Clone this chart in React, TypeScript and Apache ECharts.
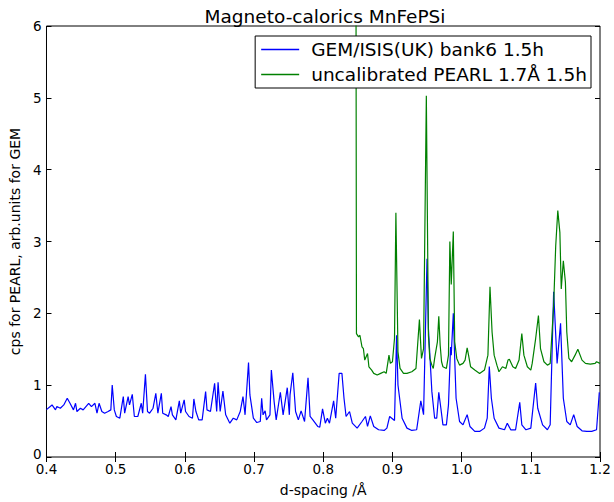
import React, { useEffect, useRef } from "react";
import * as echarts from "echarts";

const gemD = [
  0.400, 0.408, 0.413, 0.415, 0.420, 0.425, 0.430, 0.434, 0.439, 0.442, 0.444, 0.449, 0.453, 0.461, 0.465, 0.470,
  0.473, 0.476, 0.480, 0.484, 0.489, 0.493, 0.495, 0.498, 0.501, 0.506, 0.511, 0.513, 0.518, 0.520, 0.524, 0.527,
  0.532, 0.537, 0.539, 0.543, 0.546, 0.549, 0.554, 0.558, 0.561, 0.566, 0.568, 0.573, 0.576, 0.580, 0.582, 0.587,
  0.592, 0.594, 0.599, 0.601, 0.606, 0.611, 0.613, 0.616, 0.620, 0.625, 0.630, 0.632, 0.637, 0.643, 0.646, 0.648,
  0.651, 0.655, 0.659, 0.665, 0.670, 0.675, 0.680, 0.684, 0.687, 0.692, 0.694, 0.699, 0.704, 0.709, 0.711, 0.713,
  0.716, 0.718, 0.723, 0.725, 0.729, 0.732, 0.738, 0.742, 0.748, 0.751, 0.752, 0.756, 0.760, 0.764, 0.768, 0.773,
  0.778, 0.781, 0.785, 0.792, 0.795, 0.799, 0.803, 0.806, 0.809, 0.815, 0.818, 0.823, 0.827, 0.830, 0.833, 0.838,
  0.842, 0.849, 0.856, 0.861, 0.864, 0.868, 0.873, 0.880, 0.888, 0.892, 0.896, 0.899, 0.903, 0.906, 0.908, 0.914,
  0.921, 0.928, 0.935, 0.941, 0.945, 0.950, 0.952, 0.957, 0.961, 0.964, 0.967, 0.970, 0.973, 0.978, 0.981, 0.984,
  0.985, 0.988, 0.990, 0.992, 0.997, 1.002, 1.008, 1.012, 1.019, 1.026, 1.033, 1.037, 1.040, 1.043, 1.047, 1.054,
  1.062, 1.066, 1.071, 1.078, 1.084, 1.087, 1.093, 1.100, 1.107, 1.110, 1.117, 1.124, 1.128, 1.133, 1.138, 1.143,
  1.147, 1.152, 1.157, 1.162, 1.167, 1.174, 1.181, 1.188, 1.195, 1.199,
];
const gemCps = [
  0.66, 0.725, 0.656, 0.702, 0.679, 0.725, 0.818, 0.748, 0.656, 0.748, 0.633, 0.679, 0.656, 0.748, 0.702, 0.748,
  0.61, 0.748, 0.633, 0.61, 0.633, 0.656, 1.002, 0.656, 0.564, 0.54, 0.841, 0.61, 0.841, 0.725, 0.873, 0.564,
  0.564, 0.748, 0.61, 1.15, 0.633, 0.61, 0.679, 0.887, 0.61, 0.887, 0.61, 0.587, 0.564, 0.702, 0.587, 0.517,
  0.781, 0.61, 0.795, 0.633, 0.564, 0.54, 0.808, 0.633, 0.517, 0.517, 0.91, 0.656, 0.633, 1.025, 0.633, 1.039,
  0.633, 0.919, 0.587, 0.471, 0.54, 0.517, 0.633, 0.841, 0.587, 1.316, 0.864, 0.54, 0.48, 0.494, 0.818, 0.587,
  0.642, 0.517, 0.587, 1.21, 0.771, 0.517, 0.901, 0.587, 0.965, 0.587, 0.864, 1.173, 0.633, 0.517, 0.642, 0.494,
  1.104, 0.564, 0.517, 0.425, 0.416, 0.67, 0.471, 0.54, 0.471, 0.781, 0.54, 1.164, 1.164, 0.818, 0.564, 0.633,
  0.471, 0.402, 0.494, 0.564, 0.425, 0.573, 0.425, 0.379, 0.37, 0.402, 0.564, 0.54, 0.508, 1.695, 1.002, 0.54,
  0.402, 0.37, 0.379, 0.781, 0.59, 2.76, 1.787, 0.91, 0.54, 0.54, 0.9, 0.679, 0.448, 0.448, 0.725, 1.53,
  1.418, 2.0, 1.372, 0.818, 0.494, 0.448, 0.59, 0.425, 0.356, 0.356, 0.402, 0.54, 1.26, 0.818, 0.54, 0.402,
  0.379, 0.47, 0.379, 0.379, 0.76, 0.448, 0.379, 0.402, 1.03, 0.679, 0.448, 0.379, 0.448, 2.3, 1.303, 1.86,
  0.818, 0.494, 0.448, 0.59, 0.425, 0.365, 0.356, 0.356, 0.379, 0.9,
];

const pearlD = [
  0.847, 0.848, 0.851, 0.853, 0.856, 0.858, 0.860, 0.864, 0.866, 0.870, 0.873, 0.878, 0.883, 0.888, 0.891, 0.895,
  0.897, 0.900, 0.903, 0.905, 0.908, 0.911, 0.916, 0.921, 0.928, 0.934, 0.939, 0.942, 0.945, 0.949, 0.952, 0.954,
  0.957, 0.959, 0.961, 0.965, 0.967, 0.969, 0.971, 0.973, 0.978, 0.981, 0.983, 0.985, 0.988, 0.990, 0.993, 0.997,
  1.002, 1.005, 1.008, 1.010, 1.013, 1.019, 1.026, 1.033, 1.038, 1.041, 1.044, 1.047, 1.051, 1.054, 1.059, 1.064,
  1.067, 1.069, 1.074, 1.078, 1.083, 1.087, 1.090, 1.095, 1.100, 1.102, 1.107, 1.111, 1.114, 1.119, 1.124, 1.128,
  1.133, 1.136, 1.139, 1.142, 1.144, 1.147, 1.150, 1.152, 1.155, 1.159, 1.164, 1.168, 1.174, 1.179, 1.186, 1.193,
  1.195, 1.200,
];
const pearlCps = [
  9.0, 1.718, 1.672, 1.695, 1.533, 1.51, 1.349, 1.441, 1.256, 1.21, 1.164, 1.141, 1.164, 1.187, 1.164, 1.418,
  1.303, 1.326, 1.649, 3.4, 1.464, 1.233, 1.164, 1.164, 1.187, 1.233, 1.912, 1.372, 1.51, 5.03, 1.695, 1.372,
  1.279, 1.233, 1.372, 1.603, 1.96, 1.556, 1.326, 1.256, 1.233, 1.418, 3.0, 2.4, 3.14, 1.603, 1.372, 1.279,
  1.303, 1.349, 1.52, 1.418, 1.256, 1.21, 1.164, 1.21, 1.418, 2.37, 1.741, 1.418, 1.279, 1.187, 1.256, 1.233,
  1.35, 1.36, 1.256, 1.233, 1.349, 1.72, 1.418, 1.256, 1.21, 1.303, 1.649, 1.97, 1.51, 1.326, 1.279, 1.303,
  2.11, 2.942, 3.43, 3.127, 2.34, 2.73, 2.434, 1.741, 1.372, 1.326, 1.418, 1.5, 1.349, 1.303, 1.293, 1.303,
  1.326, 1.303,
];

const TITLE = "Magneto-calorics MnFePSi";
const GEM_NAME = "GEM/ISIS(UK) bank6 1.5h";
const PEARL_NAME = "uncalibrated PEARL 1.7Å 1.5h";
const X_NAME = "d-spacing /Å";
const Y_NAME = "cps for PEARL, arb.units for GEM";

const FONT = "DejaVu Sans";

export default function App() {
  const ref = useRef<HTMLDivElement>(null);
  useEffect(() => {
    const chart = echarts.init(ref.current!, null, { renderer: "svg" });
    const tick = { show: true, inside: true, length: 5, lineStyle: { color: "#000", width: 1 } };
    chart.setOption({
      animation: false,
      backgroundColor: "#fff",
      title: {
        text: TITLE,
        left: 320,
        top: 2,
        textAlign: "center",
        textStyle: { fontFamily: FONT, fontSize: 18.5, fontWeight: "normal", color: "#000" },
      },
      grid: {
        left: 41,
        right: 14,
        top: 26,
        bottom: 43,
        show: true,
        borderColor: "#000",
        borderWidth: 1,
        backgroundColor: "transparent",
      },
      legend: {
        orient: "vertical",
        right: 23,
        top: 36,
        backgroundColor: "#fff",
        borderColor: "#000",
        borderWidth: 1,
        borderRadius: 0,
        padding: [4, 4, 4, 6],
        itemGap: 6,
        itemWidth: 38,
        itemHeight: 1.5,
        icon: "rect",
        textStyle: { fontFamily: FONT, fontSize: 18.5, color: "#000", padding: [0, 0, 0, 7] },
        data: [GEM_NAME, PEARL_NAME],
      },
      xAxis: [
        {
          type: "value",
          min: 0.4,
          max: 1.2,
          interval: 0.1,
          position: "bottom",
          axisLine: { show: false },
          axisTick: tick,
          splitLine: { show: false },
          axisLabel: {
            color: "#000",
            fontFamily: FONT,
            fontSize: 13.5,
            lineHeight: 12,
            margin: 6,
            showMinLabel: true,
            showMaxLabel: true,
            formatter: (v: number) => v.toFixed(1),
          },
          name: X_NAME,
          nameLocation: "middle",
          nameGap: 26,
          nameTextStyle: { color: "#000", fontFamily: FONT, fontSize: 14 },
        },
        {
          type: "value",
          min: 0.4,
          max: 1.2,
          interval: 0.1,
          position: "top",
          axisLine: { show: false },
          axisTick: tick,
          splitLine: { show: false },
          axisLabel: { show: false },
        },
      ],
      yAxis: [
        {
          type: "value",
          min: 0,
          max: 6,
          interval: 1,
          position: "left",
          axisLine: { show: false },
          axisTick: tick,
          splitLine: { show: false },
          axisLabel: {
            color: "#000",
            fontFamily: FONT,
            fontSize: 13.5,
            lineHeight: 10,
            margin: 5,
            showMinLabel: true,
            showMaxLabel: true,
            formatter: (v: number) => (v === 0 ? "{z|0}" : String(v)),
            rich: {
              z: { fontFamily: FONT, fontSize: 13.5, color: "#000", lineHeight: 10, padding: [0, 0, 6, 0] },
            },
          },
          name: Y_NAME,
          nameLocation: "middle",
          nameGap: 22,
          nameRotate: 90,
          nameTextStyle: { color: "#000", fontFamily: FONT, fontSize: 14 },
        },
        {
          type: "value",
          min: 0,
          max: 6,
          interval: 1,
          position: "right",
          axisLine: { show: false },
          axisTick: tick,
          splitLine: { show: false },
          axisLabel: { show: false },
        },
      ],
      series: [
        {
          type: "line",
          name: GEM_NAME,
          data: gemD.map((d, i) => [d, gemCps[i]]),
          symbol: "none",
          showSymbol: false,
          lineStyle: { color: "#0000ff", width: 1.2 },
          itemStyle: { color: "#0000ff" },
          xAxisIndex: 0,
          yAxisIndex: 0,
        },
        {
          type: "line",
          name: PEARL_NAME,
          data: pearlD.map((d, i) => [d, pearlCps[i]]),
          symbol: "none",
          showSymbol: false,
          lineStyle: { color: "#008000", width: 1.2 },
          itemStyle: { color: "#008000" },
          xAxisIndex: 0,
          yAxisIndex: 0,
        },
      ],
    });
    return () => chart.dispose();
  }, []);
  return <div ref={ref} style={{ position: "absolute", left: 0, top: 0, width: 614, height: 502 }} />;
}
